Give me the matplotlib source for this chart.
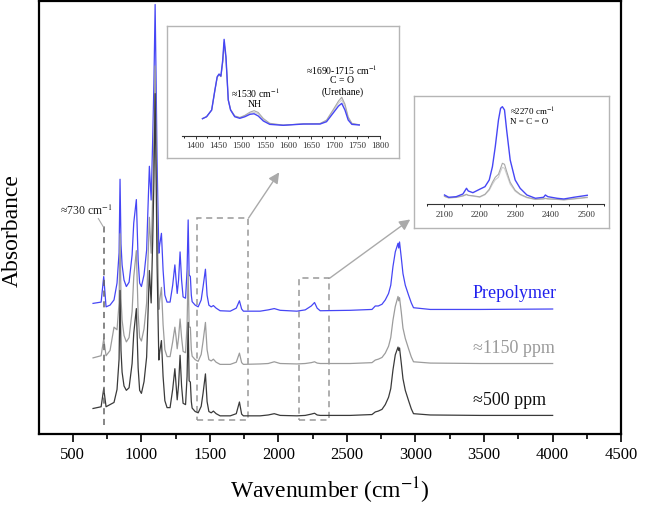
import numpy as np
import matplotlib
matplotlib.use('Agg')
import matplotlib.pyplot as plt
from matplotlib.patches import Rectangle
from matplotlib.ticker import MultipleLocator

plt.rcParams['font.family'] = ['Liberation Serif', 'DejaVu Serif']
plt.rcParams['mathtext.fontset'] = 'stix'

# wavenumber grid (cm-1)
wn = [648, 707, 726, 743, 772, 801, 823, 838, 845, 852,
      860, 874, 891, 911, 933, 945, 964, 977, 988, 1001,
      1020, 1039, 1046, 1059, 1072, 1083, 1092, 1101, 1110, 1115,
      1128, 1134, 1147, 1159, 1172, 1188, 1210, 1229, 1245, 1254,
      1262, 1272, 1283, 1294, 1305, 1323, 1334, 1342, 1349, 1358,
      1365, 1371, 1393, 1415, 1437, 1451, 1468, 1480, 1493, 1510,
      1526, 1546, 1575, 1649, 1693, 1716, 1732, 1745, 1867, 1926,
      1970, 2013, 2135, 2196, 2240, 2264, 2283, 2305, 2524, 2683,
      2707, 2729, 2756, 2780, 2804, 2820, 2836, 2853, 2873, 2878,
      2884, 2897, 2909, 2926, 2950, 2970, 2986, 3108, 3473, 4001]

# absorbance above own baseline
prepolymer = [0.013, 0.016, 0.075, 0.005, 0.009, 0.021, 0.060, 0.130, 0.300, 0.150,
              0.102, 0.067, 0.052, 0.062, 0.125, 0.199, 0.253, 0.113, 0.060, 0.052,
              0.079, 0.136, 0.206, 0.330, 0.252, 0.390, 0.520, 0.704, 0.480, 0.344,
              0.129, 0.148, 0.175, 0.090, 0.032, 0.016, 0.016, 0.055, 0.102, 0.067,
              0.036, 0.067, 0.132, 0.067, 0.028, 0.025, 0.090, 0.206, 0.079, 0.075,
              0.032, 0.017, 0.009, 0.005, 0.021, 0.052, 0.092, 0.032, 0.009, 0.005,
              0.008, 0.002, -0.004, -0.005, 0.002, 0.019, 0.000, -0.005, -0.005, -0.002,
              0.001, -0.003, -0.005, -0.002, 0.007, 0.015, 0.002, -0.004, -0.003, -0.001,
              0.007, 0.007, 0.011, 0.021, 0.036, 0.055, 0.098, 0.132, 0.152, 0.141,
              0.155, 0.118, 0.082, 0.055, 0.032, 0.014, 0.003, -0.001, -0.001, 0.000]

ppm1150 = [0.013, 0.018, 0.057, 0.018, 0.030, 0.084, 0.078, 0.140, 0.300, 0.150,
           0.100, 0.065, 0.050, 0.060, 0.120, 0.200, 0.261, 0.115, 0.060, 0.052,
           0.080, 0.140, 0.210, 0.338, 0.255, 0.385, 0.510, 0.688, 0.470, 0.340,
           0.125, 0.145, 0.176, 0.090, 0.032, 0.016, 0.016, 0.050, 0.084, 0.060,
           0.034, 0.060, 0.103, 0.060, 0.028, 0.025, 0.090, 0.215, 0.084, 0.084,
           0.032, 0.017, 0.009, 0.005, 0.021, 0.052, 0.095, 0.032, 0.009, 0.006,
           0.010, 0.003, -0.002, -0.002, 0.003, 0.024, 0.002, -0.002, -0.001, 0.000,
           0.004, 0.000, -0.001, 0.000, 0.002, 0.004, 0.001, 0.000, 0.000, 0.002,
           0.008, 0.010, 0.014, 0.024, 0.040, 0.060, 0.100, 0.132, 0.155, 0.145,
           0.152, 0.118, 0.082, 0.058, 0.034, 0.015, 0.004, 0.001, 0.000, 0.000]

ppm500 = [0.016, 0.020, 0.062, 0.020, 0.025, 0.030, 0.060, 0.130, 0.289, 0.150,
          0.100, 0.068, 0.058, 0.064, 0.120, 0.190, 0.247, 0.110, 0.058, 0.051,
          0.078, 0.135, 0.205, 0.335, 0.260, 0.400, 0.540, 0.744, 0.500, 0.350,
          0.128, 0.146, 0.173, 0.090, 0.034, 0.018, 0.018, 0.060, 0.108, 0.070,
          0.036, 0.070, 0.139, 0.068, 0.028, 0.025, 0.090, 0.215, 0.080, 0.077,
          0.032, 0.017, 0.009, 0.006, 0.021, 0.052, 0.096, 0.032, 0.009, 0.006,
          0.010, 0.004, -0.001, -0.001, 0.004, 0.031, 0.003, -0.001, -0.001, 0.001,
          0.004, 0.000, -0.001, 0.000, 0.003, 0.005, 0.001, 0.000, 0.000, 0.002,
          0.008, 0.010, 0.014, 0.025, 0.042, 0.062, 0.105, 0.140, 0.158, 0.150,
          0.156, 0.120, 0.085, 0.058, 0.034, 0.015, 0.004, 0.001, 0.000, 0.000]

offsets = [0.289, 0.163, 0.043]
names = ['Prepolymer', '≈1150 ppm', '≈500 ppm']
colors = ['#4646f5', '#9c9c9c', '#3a3a3a']
label_colors = ['#2020ee', '#9a9a9a', '#111111']

# inset 1 : 1400-1800 region
ins1_wn = [1415, 1424, 1435, 1442, 1447, 1451, 1455, 1459, 1462, 1466, 1471, 1476, 1485, 1496, 1507,
           1518, 1527, 1536, 1547, 1561, 1590, 1634, 1670, 1684, 1699, 1710, 1717, 1724, 1731, 1739, 1755]
ins1_pre = [0.163, 0.182, 0.245, 0.434, 0.559, 0.585, 0.566, 0.717, 0.912, 0.748, 0.340, 0.245, 0.182, 0.167, 0.182,
            0.205, 0.210, 0.189, 0.142, 0.110, 0.101, 0.113, 0.113, 0.135, 0.220, 0.283, 0.308, 0.245, 0.151, 0.110, 0.104]
ins1_1150 = [0.165, 0.183, 0.245, 0.430, 0.555, 0.580, 0.560, 0.700, 0.880, 0.730, 0.340, 0.250, 0.190, 0.175, 0.195,
             0.225, 0.239, 0.222, 0.165, 0.120, 0.103, 0.115, 0.118, 0.150, 0.252, 0.330, 0.365, 0.300, 0.180, 0.120, 0.106]
ins1_500 = [0.165, 0.183, 0.245, 0.430, 0.555, 0.580, 0.560, 0.700, 0.880, 0.730, 0.340, 0.248, 0.186, 0.172, 0.190,
            0.215, 0.223, 0.210, 0.155, 0.115, 0.102, 0.114, 0.116, 0.142, 0.240, 0.310, 0.340, 0.280, 0.170, 0.115, 0.105]

# inset 2 : isocyanate region
ins2_wn = [2100, 2112, 2133, 2152, 2162, 2167, 2180, 2199, 2214, 2226, 2235, 2243, 2252, 2258, 2263,
           2269, 2275, 2285, 2299, 2313, 2332, 2356, 2379, 2384, 2391, 2417, 2436, 2464, 2502]
ins2_pre = [0.093, 0.070, 0.076, 0.103, 0.160, 0.133, 0.116, 0.150, 0.176, 0.243, 0.376, 0.576, 0.843, 0.960, 0.976,
            0.943, 0.743, 0.443, 0.243, 0.160, 0.093, 0.060, 0.070, 0.093, 0.076, 0.060, 0.053, 0.070, 0.090]
ins2_1150 = [0.080, 0.065, 0.070, 0.085, 0.100, 0.090, 0.085, 0.075, 0.100, 0.150, 0.220, 0.270, 0.300, 0.360, 0.410,
             0.400, 0.330, 0.220, 0.140, 0.100, 0.070, 0.050, 0.055, 0.060, 0.055, 0.050, 0.045, 0.055, 0.070]
ins2_500 = [0.078, 0.062, 0.068, 0.082, 0.095, 0.088, 0.082, 0.070, 0.095, 0.140, 0.200, 0.245, 0.270, 0.330, 0.370,
            0.360, 0.300, 0.200, 0.130, 0.095, 0.065, 0.048, 0.052, 0.056, 0.052, 0.048, 0.043, 0.052, 0.066]

fig = plt.figure(figsize=(6.66, 5.16), dpi=100)
ax = fig.add_axes([0.0586, 0.1589, 0.8739, 0.8382])

x = np.array(wn)
for ys, off, c in zip([prepolymer, ppm1150, ppm500], offsets, colors):
    ax.plot(x, np.array(ys) + off, color=c, lw=0.9)

for name, off, c in zip(names, offsets, label_colors):
    ax.text(3420, off + 0.035, name, color=c, fontsize=13, va='center', ha='left')

ax.set_xlim(254, 4500)
ax.set_ylim(0, 1.0)
ax.set_yticks([])
ax.xaxis.set_major_locator(MultipleLocator(500))
ax.xaxis.set_minor_locator(MultipleLocator(250))
ax.tick_params(axis='x', which='major', length=6, width=1.2, labelsize=12, direction='out')
ax.tick_params(axis='x', which='minor', length=3.5, width=1.2, direction='out')
for s in ax.spines.values():
    s.set_linewidth(1.6)
ax.set_xlabel('Wavenumber (cm$^{-1}$)', fontsize=17, labelpad=9)
ax.set_ylabel('Absorbance', fontsize=17)
ax.yaxis.set_label_coords(-0.028, 0.47)

# dashed selection boxes
ax.add_patch(Rectangle((1405, 0.032), 377, 0.467, fill=False, ls=(0, (4, 3)), lw=1.1, ec='#999999'))
ax.add_patch(Rectangle((2147, 0.032), 226, 0.328, fill=False, ls=(0, (4, 3)), lw=1.1, ec='#999999'))
ax.annotate('', xy=(2006, 0.605), xytext=(1782, 0.499),
            arrowprops=dict(arrowstyle='-|>', color='#aaaaaa', lw=1, mutation_scale=16, shrinkA=0, shrinkB=0))
ax.annotate('', xy=(2962, 0.496), xytext=(2373, 0.360),
            arrowprops=dict(arrowstyle='-|>', color='#aaaaaa', lw=1, mutation_scale=16, shrinkA=0, shrinkB=0))

# 730 marker
ax.plot([726, 726], [0.021, 0.483], ls=(0, (4, 3)), color='#666666', lw=1.1)
ax.plot([687, 723], [0.498, 0.479], color='#aaaaaa', lw=0.8)
ax.text(597, 0.517, '≈730 cm$^{-1}$', fontsize=8.5, ha='center', va='center', color='#222222')

# inset frames
for rect in ([0.2503, 0.6944, 0.3492, 0.2552], [0.6216, 0.5587, 0.2932, 0.2552]):
    fr = fig.add_axes(rect)
    fr.set_xticks([])
    fr.set_yticks([])
    for s in fr.spines.values():
        s.set_color('#b5b5b5')
        s.set_linewidth(1.0)

def style_inset(a, major, minor):
    for side in ['top', 'right', 'left']:
        a.spines[side].set_visible(False)
    a.spines['bottom'].set_color('#333333')
    a.spines['bottom'].set_linewidth(0.8)
    a.patch.set_alpha(0)
    a.set_yticks([])
    a.xaxis.set_major_locator(MultipleLocator(major))
    a.xaxis.set_minor_locator(MultipleLocator(minor))
    a.tick_params(axis='x', which='major', length=2.5, width=0.7, labelsize=6.5, pad=2, colors='#333333')
    a.tick_params(axis='x', which='minor', length=1.5, width=0.6)

in1 = fig.add_axes([0.2728, 0.7364, 0.2978, 0.2054])
in1.plot(ins1_wn, ins1_500, color='#cfcfcf', lw=0.8)
in1.plot(ins1_wn, ins1_1150, color='#a8a8a8', lw=0.8)
in1.plot(ins1_wn, ins1_pre, color='#4646f5', lw=1.0)
in1.set_xlim(1370, 1800)
in1.set_ylim(0, 1)
style_inset(in1, 50, 25)
in1.text(1529, 0.406, '≈1530 cm$^{-1}$', fontsize=7, ha='center', va='center')
in1.text(1529, 0.302, 'NH', fontsize=7, ha='center', va='center')
in1.text(1718, 0.623, '≈1690-1715 cm$^{-1}$', fontsize=7, ha='center', va='center')
in1.text(1718, 0.528, 'C = O', fontsize=7, ha='center', va='center')
in1.text(1718, 0.418, '(Urethane)', fontsize=7, ha='center', va='center')

in2 = fig.add_axes([0.6407, 0.6041, 0.2667, 0.1938])
in2.plot(ins2_wn, ins2_500, color='#cfcfcf', lw=0.8)
in2.plot(ins2_wn, ins2_1150, color='#a8a8a8', lw=0.8)
in2.plot(ins2_wn, ins2_pre, color='#4646f5', lw=1.0)
in2.set_xlim(2050, 2550)
in2.set_ylim(0, 1)
style_inset(in2, 100, 50)
in2.text(2284, 0.926, '≈2270 cm$^{-1}$', fontsize=6.5, ha='left', va='center')
in2.text(2284, 0.826, 'N = C = O', fontsize=6.5, ha='left', va='center')

fig.savefig('out.png', dpi=100)
